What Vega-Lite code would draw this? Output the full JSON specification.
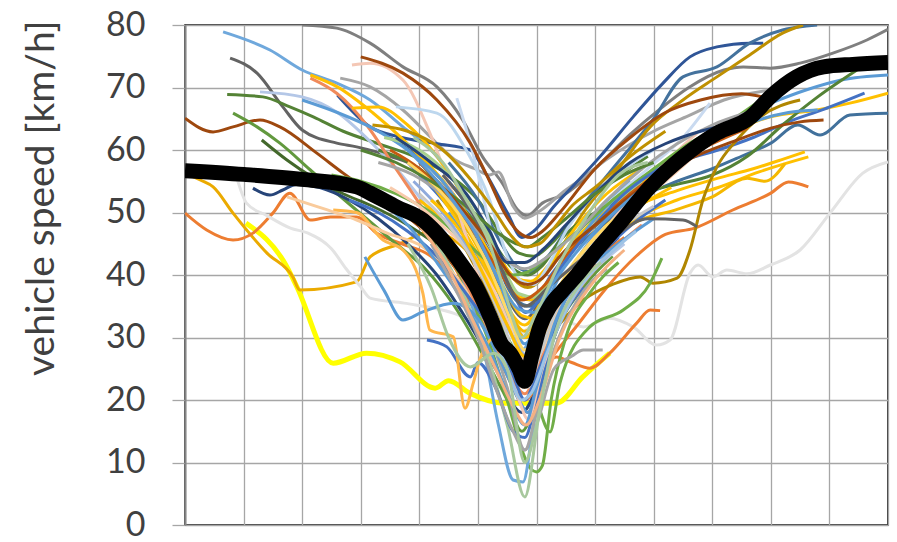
{
"$schema":"https://vega.github.io/schema/vega-lite/v6.json",
"width":703,"height":500,
"autosize":{"type":"none"},
"padding":{"left":185,"top":25,"right":9,"bottom":17},
"background":"white",
"config":{"view":{"stroke":"#000000","strokeWidth":1.5},"font":"Lato"},
"data":{"values":[
{"s":"m","x":0,"y":56.7},{"s":"m","x":1,"y":56.1},{"s":"m","x":2,"y":55.3},{"s":"m","x":2.93,"y":54.1},{"s":"m","x":3.16,"y":53.1},{"s":"m","x":3.61,"y":50.9},{"s":"m","x":4.06,"y":48.8},{"s":"m","x":4.4,"y":45.6},{"s":"m","x":4.75,"y":41.3},{"s":"m","x":4.95,"y":38.5},{"s":"m","x":5.21,"y":33.3},{"s":"m","x":5.4,"y":29},{"s":"m","x":5.55,"y":27.5},{"s":"m","x":5.7,"y":25},{"s":"m","x":5.8,"y":23},{"s":"m","x":5.92,"y":27},{"s":"m","x":6.05,"y":31.5},{"s":"m","x":6.23,"y":35},{"s":"m","x":6.45,"y":37.5},{"s":"m","x":6.69,"y":40},{"s":"m","x":7.03,"y":44},{"s":"m","x":7.4,"y":48},{"s":"m","x":7.94,"y":54.1},{"s":"m","x":8.5,"y":58.9},{"s":"m","x":9.08,"y":62.7},{"s":"m","x":9.66,"y":65.3},{"s":"m","x":9.99,"y":68.5},{"s":"m","x":10.44,"y":71.7},{"s":"m","x":10.9,"y":73.3},{"s":"m","x":11.4,"y":73.7},{"s":"m","x":12,"y":74},
{"s":"y","x":1.04,"y":48.3},{"s":"y","x":1.74,"y":41.3},{"s":"y","x":1.91,"y":38.1},{"s":"y","x":2.53,"y":25.9},{"s":"y","x":3.1,"y":27.5},{"s":"y","x":3.67,"y":26.1},{"s":"y","x":4.27,"y":21.9},{"s":"y","x":4.5,"y":23.1},{"s":"y","x":4.86,"y":21.1},{"s":"y","x":5.43,"y":19.5},{"s":"y","x":6.34,"y":19.5},{"s":"y","x":6.79,"y":23.7},{"s":"y","x":7.25,"y":27.5},
{"s":"01","x":0,"y":56.3},{"s":"01","x":0.26,"y":55.2},{"s":"01","x":0.48,"y":54.1},{"s":"01","x":0.82,"y":49.9},{"s":"01","x":1.4,"y":43.5},{"s":"01","x":1.84,"y":39.7},{"s":"01","x":1.96,"y":37.6},{"s":"01","x":2.93,"y":38.9},{"s":"01","x":3.16,"y":42.9},{"s":"01","x":3.67,"y":45},{"s":"01","x":4.2,"y":47},{"s":"01","x":4.8,"y":44},{"s":"01","x":5.3,"y":38},{"s":"01","x":5.8,"y":30},{"s":"01","x":6.3,"y":40},{"s":"01","x":7.0,"y":47},{"s":"01","x":7.8,"y":52},
{"s":"02","x":0,"y":49.9},{"s":"02","x":0.37,"y":47.2},{"s":"02","x":0.82,"y":45.6},{"s":"02","x":1.16,"y":46.7},{"s":"02","x":1.5,"y":49.9},{"s":"02","x":1.79,"y":53.1},{"s":"02","x":2.14,"y":48.8},{"s":"02","x":2.48,"y":49.3},{"s":"02","x":2.93,"y":49.3},{"s":"02","x":3.27,"y":46.7},{"s":"02","x":3.7,"y":45},{"s":"02","x":4.2,"y":43},{"s":"02","x":4.7,"y":38},{"s":"02","x":5.2,"y":30},{"s":"02","x":5.6,"y":22},{"s":"02","x":5.85,"y":18},{"s":"02","x":6.1,"y":25},{"s":"02","x":6.5,"y":35},{"s":"02","x":7.0,"y":42},{"s":"02","x":7.5,"y":46},
{"s":"03","x":0.88,"y":55.7},{"s":"03","x":1.05,"y":51.5},{"s":"03","x":1.4,"y":49.5},{"s":"03","x":1.8,"y":47.5},{"s":"03","x":2.1,"y":46.7},{"s":"03","x":2.5,"y":44.2},{"s":"03","x":2.75,"y":41},{"s":"03","x":3.0,"y":38.1},{"s":"03","x":3.16,"y":36.3},{"s":"03","x":3.74,"y":35.5},{"s":"03","x":4.58,"y":33.9},{"s":"03","x":5.2,"y":31.2},{"s":"03","x":5.6,"y":30},{"s":"03","x":6.0,"y":32.5},{"s":"03","x":6.3,"y":33.5},{"s":"03","x":6.8,"y":31.7},{"s":"03","x":7.25,"y":33.1},{"s":"03","x":7.65,"y":31.7},{"s":"03","x":8.05,"y":28.8},{"s":"03","x":8.28,"y":29.6},{"s":"03","x":8.62,"y":40.3},{"s":"03","x":8.76,"y":41.6},{"s":"03","x":9.01,"y":39.7},{"s":"03","x":9.25,"y":40.8},{"s":"03","x":9.59,"y":40.2},{"s":"03","x":9.99,"y":41.6},{"s":"03","x":10.5,"y":44},{"s":"03","x":11.01,"y":49.9},{"s":"03","x":11.57,"y":56.3},{"s":"03","x":12,"y":58.1},
{"s":"04","x":0,"y":65.1},{"s":"04","x":0.48,"y":62.9},{"s":"04","x":0.82,"y":63.7},{"s":"04","x":1.28,"y":64.8},{"s":"04","x":1.62,"y":63.7},{"s":"04","x":2.25,"y":59.5},{"s":"04","x":2.7,"y":56.3},{"s":"04","x":3.2,"y":53},{"s":"04","x":3.7,"y":50},{"s":"04","x":4.2,"y":46},{"s":"04","x":4.7,"y":40},{"s":"04","x":5.2,"y":33},{"s":"04","x":5.6,"y":26},{"s":"04","x":5.8,"y":24},{"s":"04","x":6.1,"y":30},{"s":"04","x":6.5,"y":38},{"s":"04","x":7.0,"y":44},{"s":"04","x":7.6,"y":49},
{"s":"05","x":0.65,"y":78.9},{"s":"05","x":1.45,"y":76},{"s":"05","x":2.0,"y":72.8},{"s":"05","x":2.59,"y":70.7},{"s":"05","x":3.16,"y":68},{"s":"05","x":3.72,"y":63.7},{"s":"05","x":4.2,"y":60},{"s":"05","x":4.6,"y":55},{"s":"05","x":5.0,"y":46},{"s":"05","x":5.4,"y":36},{"s":"05","x":5.75,"y":28},{"s":"05","x":6.0,"y":32},{"s":"05","x":6.4,"y":42},{"s":"05","x":7.0,"y":50},{"s":"05","x":7.6,"y":55},
{"s":"06","x":0.77,"y":74.7},{"s":"06","x":1.23,"y":72.3},{"s":"06","x":1.67,"y":66.9},{"s":"06","x":2.0,"y":63.2},{"s":"06","x":2.59,"y":61.1},{"s":"06","x":2.93,"y":60.5},{"s":"06","x":3.5,"y":59},{"s":"06","x":4.0,"y":57},{"s":"06","x":4.5,"y":52},{"s":"06","x":5.0,"y":45},{"s":"06","x":5.4,"y":38},{"s":"06","x":5.8,"y":33},{"s":"06","x":6.2,"y":38},{"s":"06","x":6.7,"y":45},{"s":"06","x":7.3,"y":50},{"s":"06","x":8.0,"y":54},
{"s":"07","x":0.72,"y":68.9},{"s":"07","x":1.33,"y":68.5},{"s":"07","x":1.79,"y":66.9},{"s":"07","x":2.19,"y":65.3},{"s":"07","x":2.7,"y":63},{"s":"07","x":3.3,"y":61},{"s":"07","x":3.9,"y":59},{"s":"07","x":4.5,"y":56},{"s":"07","x":5.0,"y":52},{"s":"07","x":5.4,"y":46.5},{"s":"07","x":5.7,"y":43.5},{"s":"07","x":5.95,"y":43},{"s":"07","x":6.25,"y":45},{"s":"07","x":6.7,"y":50},{"s":"07","x":7.3,"y":55},{"s":"07","x":7.9,"y":59},
{"s":"08","x":0.82,"y":65.9},{"s":"08","x":1.23,"y":63.7},{"s":"08","x":1.62,"y":61.1},{"s":"08","x":2.14,"y":56.8},{"s":"08","x":2.6,"y":53},{"s":"08","x":3.1,"y":49},{"s":"08","x":3.6,"y":45},{"s":"08","x":4.1,"y":41},{"s":"08","x":4.6,"y":35},{"s":"08","x":5.1,"y":27},{"s":"08","x":5.5,"y":20},{"s":"08","x":5.75,"y":15},{"s":"08","x":6.0,"y":20},{"s":"08","x":6.3,"y":30},{"s":"08","x":6.8,"y":38},{"s":"08","x":7.3,"y":43},
{"s":"09","x":1.31,"y":61.6},{"s":"09","x":1.74,"y":58.4},{"s":"09","x":2.2,"y":55.5},{"s":"09","x":2.7,"y":53},{"s":"09","x":3.2,"y":51},{"s":"09","x":3.8,"y":48},{"s":"09","x":4.4,"y":44},{"s":"09","x":5.0,"y":38},{"s":"09","x":5.5,"y":30},{"s":"09","x":5.8,"y":25},{"s":"09","x":6.1,"y":32},{"s":"09","x":6.6,"y":40},{"s":"09","x":7.2,"y":46},
{"s":"10","x":1.16,"y":53.9},{"s":"10","x":1.45,"y":52.8},{"s":"10","x":1.67,"y":53.6},{"s":"10","x":1.9,"y":54.5},{"s":"10","x":2.3,"y":54},{"s":"10","x":2.8,"y":52},{"s":"10","x":3.3,"y":49},{"s":"10","x":3.8,"y":45},{"s":"10","x":4.3,"y":40},{"s":"10","x":4.8,"y":33},{"s":"10","x":5.3,"y":25},{"s":"10","x":5.75,"y":18},{"s":"10","x":6.0,"y":22},{"s":"10","x":6.3,"y":32},{"s":"10","x":6.8,"y":40},{"s":"10","x":7.4,"y":46},
{"s":"11","x":1.28,"y":69.3},{"s":"11","x":2.0,"y":68.5},{"s":"11","x":2.6,"y":66},{"s":"11","x":3.2,"y":61},{"s":"11","x":3.7,"y":56},{"s":"11","x":4.2,"y":50},{"s":"11","x":4.7,"y":43},{"s":"11","x":5.2,"y":36},{"s":"11","x":5.6,"y":30},{"s":"11","x":5.85,"y":27},{"s":"11","x":6.1,"y":30},{"s":"11","x":6.5,"y":36},{"s":"11","x":7.0,"y":41},{"s":"11","x":7.5,"y":45},
{"s":"12","x":2.0,"y":80},{"s":"12","x":2.59,"y":79.5},{"s":"12","x":3.16,"y":77.1},{"s":"12","x":3.72,"y":73.3},{"s":"12","x":4.3,"y":70.1},{"s":"12","x":4.74,"y":64.8},{"s":"12","x":5.08,"y":58.9},{"s":"12","x":5.43,"y":54.5},{"s":"12","x":5.67,"y":50.5},{"s":"12","x":5.84,"y":49.5},{"s":"12","x":6.1,"y":51.5},{"s":"12","x":6.5,"y":53},{"s":"12","x":7.0,"y":57},{"s":"12","x":7.6,"y":62.5},{"s":"12","x":8.1,"y":66.5},{"s":"12","x":8.6,"y":70},{"s":"12","x":9.2,"y":72.8},{"s":"12","x":9.53,"y":73.3},{"s":"12","x":9.99,"y":73.1},{"s":"12","x":10.5,"y":73.9},{"s":"12","x":11.06,"y":75.5},{"s":"12","x":11.64,"y":77.6},{"s":"12","x":12,"y":79.3},
{"s":"13","x":2.65,"y":71.5},{"s":"13","x":3.16,"y":70.1},{"s":"13","x":3.72,"y":66.4},{"s":"13","x":4.2,"y":62},{"s":"13","x":4.6,"y":58.5},{"s":"13","x":4.95,"y":57},{"s":"13","x":5.2,"y":56},{"s":"13","x":5.35,"y":56.5},{"s":"13","x":5.6,"y":51},{"s":"13","x":5.8,"y":49.1},{"s":"13","x":6.05,"y":50.2},{"s":"13","x":6.5,"y":53.6},{"s":"13","x":6.74,"y":55.2},{"s":"13","x":7.2,"y":58.5},{"s":"13","x":8.0,"y":63},{"s":"13","x":8.6,"y":65.5},{"s":"13","x":9.2,"y":68},{"s":"13","x":9.99,"y":69.6},
{"s":"14","x":2.6,"y":68.8},{"s":"14","x":3.16,"y":63.7},{"s":"14","x":3.7,"y":62},{"s":"14","x":4.3,"y":61},{"s":"14","x":4.87,"y":60},{"s":"14","x":5.15,"y":56},{"s":"14","x":5.5,"y":50},{"s":"14","x":5.75,"y":46},{"s":"14","x":5.95,"y":47},{"s":"14","x":6.3,"y":51},{"s":"14","x":6.7,"y":55},{"s":"14","x":7.08,"y":58.9},{"s":"14","x":7.65,"y":65.3},{"s":"14","x":8.16,"y":70.7},{"s":"14","x":8.62,"y":74.9},{"s":"14","x":9.08,"y":76.5},{"s":"14","x":9.64,"y":77.1},{"s":"14","x":9.87,"y":77.1},
{"s":"15","x":4.5,"y":58},{"s":"15","x":5.0,"y":52},{"s":"15","x":5.4,"y":45},{"s":"15","x":5.65,"y":41.5},{"s":"15","x":5.9,"y":40.5},{"s":"15","x":6.15,"y":42.5},{"s":"15","x":6.7,"y":50},{"s":"15","x":7.3,"y":57},{"s":"15","x":8.0,"y":65},{"s":"15","x":8.5,"y":71.7},{"s":"15","x":9.08,"y":73.3},{"s":"15","x":9.64,"y":77.1},{"s":"15","x":10.2,"y":79.2},{"s":"15","x":10.79,"y":80},
{"s":"16","x":4.2,"y":55},{"s":"16","x":4.8,"y":50},{"s":"16","x":5.3,"y":44},{"s":"16","x":5.6,"y":39.5},{"s":"16","x":5.85,"y":38},{"s":"16","x":6.1,"y":39.5},{"s":"16","x":6.4,"y":44},{"s":"16","x":6.8,"y":50},{"s":"16","x":7.4,"y":57},{"s":"16","x":7.94,"y":63.7},{"s":"16","x":8.5,"y":68},{"s":"16","x":9.08,"y":71.7},{"s":"16","x":9.64,"y":75.2},{"s":"16","x":10.2,"y":78.7},{"s":"16","x":10.55,"y":80},
{"s":"17","x":4.5,"y":50},{"s":"17","x":5.0,"y":43},{"s":"17","x":5.5,"y":35},{"s":"17","x":5.8,"y":30},{"s":"17","x":6.2,"y":35},{"s":"17","x":6.8,"y":44},{"s":"17","x":7.5,"y":52},{"s":"17","x":8.2,"y":58},{"s":"17","x":8.8,"y":62},{"s":"17","x":9.45,"y":65.3},{"s":"17","x":10.0,"y":67.5},{"s":"17","x":10.6,"y":69.6},{"s":"17","x":11.2,"y":71.2},{"s":"17","x":12,"y":72},
{"s":"18","x":4.0,"y":52},{"s":"18","x":4.7,"y":46},{"s":"18","x":5.3,"y":38},{"s":"18","x":5.8,"y":32},{"s":"18","x":6.2,"y":38},{"s":"18","x":6.8,"y":46},{"s":"18","x":7.5,"y":52},{"s":"18","x":8.2,"y":57},{"s":"18","x":8.8,"y":61},{"s":"18","x":9.45,"y":63.5},{"s":"18","x":9.99,"y":65.3},{"s":"18","x":10.79,"y":66.4},{"s":"18","x":11.35,"y":67.5},{"s":"18","x":12,"y":69.1},
{"s":"19","x":3.5,"y":62},{"s":"19","x":4.2,"y":57},{"s":"19","x":4.8,"y":50},{"s":"19","x":5.3,"y":42},{"s":"19","x":5.65,"y":36},{"s":"19","x":5.9,"y":35},{"s":"19","x":6.15,"y":37},{"s":"19","x":6.4,"y":41},{"s":"19","x":7.0,"y":47},{"s":"19","x":7.7,"y":52},{"s":"19","x":8.4,"y":55},{"s":"19","x":9.0,"y":57},{"s":"19","x":9.5,"y":59},{"s":"19","x":10.0,"y":61.1},{"s":"19","x":10.46,"y":64},{"s":"19","x":10.84,"y":62.4},{"s":"19","x":11.35,"y":65.6},{"s":"19","x":12,"y":65.9},
{"s":"20","x":3.8,"y":58},{"s":"20","x":4.4,"y":52},{"s":"20","x":5.0,"y":45},{"s":"20","x":5.4,"y":40},{"s":"20","x":5.7,"y":36.5},{"s":"20","x":5.95,"y":36},{"s":"20","x":6.25,"y":40},{"s":"20","x":7.0,"y":49},{"s":"20","x":7.7,"y":55},{"s":"20","x":8.4,"y":58},{"s":"20","x":9.1,"y":60},{"s":"20","x":9.7,"y":62},{"s":"20","x":10.3,"y":64.5},{"s":"20","x":10.9,"y":66.5},{"s":"20","x":11.6,"y":69.1},
{"s":"21","x":3.3,"y":60},{"s":"21","x":4.0,"y":57},{"s":"21","x":4.6,"y":52},{"s":"21","x":5.2,"y":46},{"s":"21","x":5.6,"y":41},{"s":"21","x":5.85,"y":40},{"s":"21","x":6.1,"y":41.5},{"s":"21","x":6.4,"y":45.5},{"s":"21","x":7.0,"y":50},{"s":"21","x":7.7,"y":53},{"s":"21","x":8.4,"y":54.5},{"s":"21","x":9.0,"y":56},{"s":"21","x":9.6,"y":59},{"s":"21","x":10.2,"y":64},{"s":"21","x":10.8,"y":68.5},{"s":"21","x":11.47,"y":72.8},
{"s":"22","x":3.9,"y":60},{"s":"22","x":4.5,"y":54},{"s":"22","x":5.1,"y":45},{"s":"22","x":5.5,"y":37},{"s":"22","x":5.75,"y":33.5},{"s":"22","x":6.0,"y":33},{"s":"22","x":6.3,"y":37},{"s":"22","x":7.0,"y":46},{"s":"22","x":7.7,"y":51},{"s":"22","x":8.4,"y":53.5},{"s":"22","x":9.1,"y":55.5},{"s":"22","x":9.7,"y":57},{"s":"22","x":10.2,"y":58.5},{"s":"22","x":10.58,"y":59.7},
{"s":"23","x":4.1,"y":56},{"s":"23","x":4.7,"y":48},{"s":"23","x":5.2,"y":40},{"s":"23","x":5.5,"y":35},{"s":"23","x":5.8,"y":30},{"s":"23","x":6.3,"y":36},{"s":"23","x":7.0,"y":43},{"s":"23","x":7.7,"y":49},{"s":"23","x":8.4,"y":52},{"s":"23","x":9.1,"y":54},{"s":"23","x":9.8,"y":56.5},{"s":"23","x":10.64,"y":58.9},
{"s":"24","x":4.3,"y":54},{"s":"24","x":4.9,"y":46},{"s":"24","x":5.4,"y":37},{"s":"24","x":5.8,"y":31},{"s":"24","x":6.3,"y":37},{"s":"24","x":7.0,"y":44},{"s":"24","x":7.7,"y":48.5},{"s":"24","x":8.4,"y":50.5},{"s":"24","x":9.0,"y":52.5},{"s":"24","x":9.6,"y":55.5},{"s":"24","x":9.9,"y":55},{"s":"24","x":10.24,"y":57.8},
{"s":"25","x":4.0,"y":50},{"s":"25","x":4.5,"y":43},{"s":"25","x":5.0,"y":34},{"s":"25","x":5.4,"y":26},{"s":"25","x":5.8,"y":20},{"s":"25","x":6.2,"y":26},{"s":"25","x":6.7,"y":32},{"s":"25","x":7.2,"y":38},{"s":"25","x":7.7,"y":43},{"s":"25","x":8.2,"y":46.5},{"s":"25","x":8.7,"y":47.5},{"s":"25","x":9.35,"y":50.4},{"s":"25","x":10.0,"y":53.1},{"s":"25","x":10.3,"y":54.9},{"s":"25","x":10.64,"y":54.1},
{"s":"26","x":4.2,"y":48},{"s":"26","x":4.7,"y":40},{"s":"26","x":5.1,"y":33},{"s":"26","x":5.5,"y":26},{"s":"26","x":5.85,"y":22},{"s":"26","x":6.1,"y":25},{"s":"26","x":6.34,"y":26.9},{"s":"26","x":6.6,"y":26},{"s":"26","x":6.91,"y":25.1},{"s":"26","x":7.25,"y":27.5},{"s":"26","x":7.71,"y":32.3},{"s":"26","x":7.94,"y":34.4},{"s":"26","x":8.11,"y":34.3},
{"s":"27","x":4.3,"y":52},{"s":"27","x":4.8,"y":44},{"s":"27","x":5.3,"y":35},{"s":"27","x":5.8,"y":25},{"s":"27","x":6.2,"y":30},{"s":"27","x":6.8,"y":36},{"s":"27","x":7.3,"y":38.5},{"s":"27","x":7.77,"y":39.7},{"s":"27","x":7.99,"y":38.7},{"s":"27","x":8.4,"y":39.5},{"s":"27","x":8.62,"y":44},{"s":"27","x":8.84,"y":52},{"s":"27","x":9.08,"y":57.3},{"s":"27","x":9.42,"y":61.6},{"s":"27","x":9.82,"y":65.3},{"s":"27","x":10.5,"y":68},
{"s":"28","x":4.1,"y":50},{"s":"28","x":4.6,"y":43},{"s":"28","x":5.1,"y":36},{"s":"28","x":5.5,"y":30},{"s":"28","x":5.8,"y":25},{"s":"28","x":6.0,"y":20},{"s":"28","x":6.23,"y":14.9},{"s":"28","x":6.4,"y":22.7},{"s":"28","x":6.91,"y":31.7},{"s":"28","x":7.48,"y":34.4},{"s":"28","x":7.94,"y":38.7},{"s":"28","x":8.14,"y":42.7},
{"s":"29","x":4.4,"y":45},{"s":"29","x":4.8,"y":38},{"s":"29","x":5.2,"y":29},{"s":"29","x":5.5,"y":20},{"s":"29","x":5.75,"y":12},{"s":"29","x":5.9,"y":9},{"s":"29","x":6.0,"y":8.5},{"s":"29","x":6.1,"y":9.5},{"s":"29","x":6.25,"y":20},{"s":"29","x":6.5,"y":30},{"s":"29","x":6.9,"y":37},{"s":"29","x":7.4,"y":42},
{"s":"30","x":4.2,"y":50},{"s":"30","x":4.7,"y":42},{"s":"30","x":5.1,"y":33},{"s":"30","x":5.5,"y":22},{"s":"30","x":5.8,"y":12},{"s":"30","x":6.0,"y":16},{"s":"30","x":6.3,"y":25},{"s":"30","x":6.6,"y":27},{"s":"30","x":6.8,"y":28},{"s":"30","x":7.13,"y":28},
{"s":"31","x":4.3,"y":48},{"s":"31","x":4.8,"y":38},{"s":"31","x":5.1,"y":28},{"s":"31","x":5.35,"y":16},{"s":"31","x":5.6,"y":7.2},{"s":"31","x":5.77,"y":6.9},{"s":"31","x":5.95,"y":16},{"s":"31","x":6.2,"y":28},{"s":"31","x":6.6,"y":36},{"s":"31","x":7.2,"y":43},
{"s":"32","x":4.3,"y":45},{"s":"32","x":4.8,"y":36},{"s":"32","x":5.2,"y":26},{"s":"32","x":5.5,"y":16},{"s":"32","x":5.8,"y":4.5},{"s":"32","x":6.0,"y":15},{"s":"32","x":6.2,"y":30},{"s":"32","x":6.6,"y":40},{"s":"32","x":7.0,"y":45},
{"s":"33","x":4.13,"y":29.6},{"s":"33","x":4.47,"y":28.5},{"s":"33","x":4.87,"y":23.7},{"s":"33","x":5.0,"y":26},{"s":"33","x":5.3,"y":22},{"s":"33","x":5.6,"y":15},{"s":"33","x":5.8,"y":14},{"s":"33","x":6.0,"y":20},{"s":"33","x":6.3,"y":30},{"s":"33","x":6.8,"y":38},
{"s":"34","x":3.07,"y":42.9},{"s":"34","x":3.4,"y":37.5},{"s":"34","x":3.72,"y":32.8},{"s":"34","x":4.06,"y":34.1},{"s":"34","x":4.58,"y":35.5},{"s":"34","x":5.0,"y":33},{"s":"34","x":5.4,"y":26},{"s":"34","x":5.7,"y":20},{"s":"34","x":5.85,"y":18},{"s":"34","x":6.1,"y":26},{"s":"34","x":6.5,"y":36},{"s":"34","x":7.0,"y":43},
{"s":"35","x":2.53,"y":50.4},{"s":"35","x":2.93,"y":50},{"s":"35","x":3.38,"y":45.6},{"s":"35","x":3.72,"y":44},{"s":"35","x":4.06,"y":37.1},{"s":"35","x":4.18,"y":31.2},{"s":"35","x":4.58,"y":30.1},{"s":"35","x":4.78,"y":18.7},{"s":"35","x":4.92,"y":22.7},{"s":"35","x":5.03,"y":26.4},{"s":"35","x":5.3,"y":30},{"s":"35","x":5.6,"y":28},{"s":"35","x":5.85,"y":25},{"s":"35","x":6.1,"y":30},{"s":"35","x":6.5,"y":38},{"s":"35","x":7.0,"y":44},{"s":"35","x":7.5,"y":48},
{"s":"36","x":1.74,"y":52.5},{"s":"36","x":2.59,"y":49.9},{"s":"36","x":2.93,"y":48.8},{"s":"36","x":3.45,"y":46.7},{"s":"36","x":4.06,"y":44.5},{"s":"36","x":4.6,"y":40},{"s":"36","x":5.1,"y":33},{"s":"36","x":5.5,"y":26},{"s":"36","x":5.8,"y":22},{"s":"36","x":6.1,"y":28},{"s":"36","x":6.5,"y":37},{"s":"36","x":7.0,"y":44},
{"s":"37","x":2.85,"y":73.6},{"s":"37","x":3.16,"y":73.9},{"s":"37","x":3.72,"y":71.2},{"s":"37","x":4.18,"y":62.7},{"s":"37","x":4.6,"y":52},{"s":"37","x":5.0,"y":40},{"s":"37","x":5.4,"y":28},{"s":"37","x":5.7,"y":20},{"s":"37","x":5.85,"y":17},{"s":"37","x":6.1,"y":25},{"s":"37","x":6.5,"y":35},{"s":"37","x":7.0,"y":45},{"s":"37","x":7.6,"y":52},{"s":"37","x":8.2,"y":58},{"s":"37","x":8.74,"y":62.7},
{"s":"38","x":4.64,"y":68.3},{"s":"38","x":4.9,"y":60},{"s":"38","x":5.2,"y":48},{"s":"38","x":5.5,"y":35},{"s":"38","x":5.75,"y":25},{"s":"38","x":5.95,"y":30},{"s":"38","x":6.3,"y":38},{"s":"38","x":6.8,"y":46},{"s":"38","x":7.3,"y":52},{"s":"38","x":7.9,"y":57},{"s":"38","x":8.5,"y":62},{"s":"38","x":8.96,"y":67.5},
{"s":"39","x":2.14,"y":72},{"s":"39","x":2.6,"y":70.1},{"s":"39","x":3.2,"y":66},{"s":"39","x":3.8,"y":61},{"s":"39","x":4.4,"y":55},{"s":"39","x":4.9,"y":48},{"s":"39","x":5.4,"y":40.5},{"s":"39","x":5.7,"y":36.5},{"s":"39","x":5.95,"y":36},{"s":"39","x":6.2,"y":38.5},{"s":"39","x":6.7,"y":46},{"s":"39","x":7.3,"y":51},{"s":"39","x":8.0,"y":56},
{"s":"40","x":2.14,"y":71.5},{"s":"40","x":2.6,"y":69},{"s":"40","x":3.1,"y":64},{"s":"40","x":3.6,"y":57},{"s":"40","x":4.1,"y":50},{"s":"40","x":4.6,"y":42},{"s":"40","x":5.1,"y":33},{"s":"40","x":5.5,"y":25},{"s":"40","x":5.8,"y":21},{"s":"40","x":6.1,"y":27},{"s":"40","x":6.6,"y":36},{"s":"40","x":7.2,"y":43},{"s":"40","x":7.8,"y":48},
{"s":"41","x":2.0,"y":68},{"s":"41","x":2.6,"y":66},{"s":"41","x":3.2,"y":63.5},{"s":"41","x":3.8,"y":60},{"s":"41","x":4.4,"y":55},{"s":"41","x":4.9,"y":48},{"s":"41","x":5.4,"y":38},{"s":"41","x":5.8,"y":29},{"s":"41","x":6.1,"y":34},{"s":"41","x":6.5,"y":42},{"s":"41","x":7.0,"y":49},{"s":"41","x":7.6,"y":54},
{"s":"42","x":2.85,"y":66.7},{"s":"42","x":3.3,"y":66.9},{"s":"42","x":3.8,"y":64},{"s":"42","x":4.3,"y":59},{"s":"42","x":4.8,"y":52},{"s":"42","x":5.35,"y":43},{"s":"42","x":5.65,"y":39.5},{"s":"42","x":5.9,"y":39},{"s":"42","x":6.2,"y":41.5},{"s":"42","x":6.7,"y":48},{"s":"42","x":7.2,"y":53},{"s":"42","x":7.8,"y":57},
{"s":"43","x":3.6,"y":66.9},{"s":"43","x":4.3,"y":65.9},{"s":"43","x":4.8,"y":60},{"s":"43","x":5.2,"y":52},{"s":"43","x":5.5,"y":43},{"s":"43","x":5.75,"y":39},{"s":"43","x":5.95,"y":38.5},{"s":"43","x":6.2,"y":41.5},{"s":"43","x":6.5,"y":47},{"s":"43","x":7.0,"y":53},{"s":"43","x":7.5,"y":57},{"s":"43","x":8.0,"y":60},
{"s":"44","x":3.4,"y":62},{"s":"44","x":4.0,"y":60},{"s":"44","x":4.5,"y":56},{"s":"44","x":5.0,"y":50},{"s":"44","x":5.4,"y":42},{"s":"44","x":5.7,"y":37},{"s":"44","x":5.95,"y":36.5},{"s":"44","x":6.2,"y":39},{"s":"44","x":6.7,"y":45},{"s":"44","x":7.2,"y":50},{"s":"44","x":7.8,"y":55},
{"s":"45","x":3.0,"y":74.9},{"s":"45","x":3.72,"y":72.3},{"s":"45","x":4.3,"y":68},{"s":"45","x":4.87,"y":61.1},{"s":"45","x":5.2,"y":55},{"s":"45","x":5.45,"y":50},{"s":"45","x":5.7,"y":46.8},{"s":"45","x":5.9,"y":46},{"s":"45","x":6.1,"y":47},{"s":"45","x":6.4,"y":50},{"s":"45","x":7.0,"y":57},{"s":"45","x":7.6,"y":62},{"s":"45","x":8.2,"y":66},{"s":"45","x":8.8,"y":68},{"s":"45","x":9.5,"y":69},{"s":"45","x":9.94,"y":68.3},
{"s":"46","x":2.5,"y":56},{"s":"46","x":3.0,"y":55},{"s":"46","x":3.6,"y":53},{"s":"46","x":4.2,"y":50},{"s":"46","x":4.7,"y":46},{"s":"46","x":5.2,"y":42},{"s":"46","x":5.6,"y":40},{"s":"46","x":5.85,"y":40.5},{"s":"46","x":6.2,"y":43},{"s":"46","x":6.7,"y":47},{"s":"46","x":7.3,"y":52},{"s":"46","x":8.0,"y":57},{"s":"46","x":8.6,"y":61},{"s":"46","x":9.2,"y":64},{"s":"46","x":9.9,"y":68.5},
{"s":"47","x":2.8,"y":52},{"s":"47","x":3.3,"y":50},{"s":"47","x":3.8,"y":47},{"s":"47","x":4.3,"y":43},{"s":"47","x":4.8,"y":37},{"s":"47","x":5.3,"y":30},{"s":"47","x":5.6,"y":24},{"s":"47","x":5.8,"y":20},{"s":"47","x":6.0,"y":24},{"s":"47","x":6.4,"y":33},{"s":"47","x":6.9,"y":41},{"s":"47","x":7.5,"y":47},{"s":"47","x":8.2,"y":52},
{"s":"48","x":3.5,"y":60},{"s":"48","x":4.0,"y":57},{"s":"48","x":4.5,"y":52},{"s":"48","x":5.0,"y":46},{"s":"48","x":5.4,"y":40},{"s":"48","x":5.75,"y":36},{"s":"48","x":6.1,"y":38},{"s":"48","x":6.5,"y":43},{"s":"48","x":7.0,"y":48},{"s":"48","x":7.6,"y":53},{"s":"48","x":8.3,"y":57.5},{"s":"48","x":9.0,"y":61},{"s":"48","x":9.6,"y":63.5},
{"s":"49","x":3.3,"y":58},{"s":"49","x":3.9,"y":56},{"s":"49","x":4.5,"y":52},{"s":"49","x":5.0,"y":47},{"s":"49","x":5.4,"y":43},{"s":"49","x":5.8,"y":41},{"s":"49","x":6.2,"y":43},{"s":"49","x":6.7,"y":47},{"s":"49","x":7.2,"y":52},{"s":"49","x":7.8,"y":57},{"s":"49","x":8.4,"y":61},{"s":"49","x":9.0,"y":64},{"s":"49","x":9.6,"y":66},
{"s":"50","x":3.6,"y":62},{"s":"50","x":4.2,"y":58},{"s":"50","x":4.8,"y":53},{"s":"50","x":5.2,"y":47},{"s":"50","x":5.5,"y":42},{"s":"50","x":5.8,"y":42},{"s":"50","x":6.1,"y":44},{"s":"50","x":6.5,"y":48},{"s":"50","x":7.0,"y":53},{"s":"50","x":7.6,"y":58},{"s":"50","x":8.2,"y":61},{"s":"50","x":8.8,"y":63},{"s":"50","x":9.5,"y":64.5},
{"s":"51","x":3.5,"y":54},{"s":"51","x":4.0,"y":51},{"s":"51","x":4.5,"y":47},{"s":"51","x":5.0,"y":42},{"s":"51","x":5.4,"y":35},{"s":"51","x":5.7,"y":28},{"s":"51","x":5.82,"y":26},{"s":"51","x":6.0,"y":30},{"s":"51","x":6.4,"y":38},{"s":"51","x":6.9,"y":45},{"s":"51","x":7.5,"y":50},{"s":"51","x":8.2,"y":55},{"s":"51","x":8.8,"y":60},
{"s":"52","x":3.8,"y":58},{"s":"52","x":4.3,"y":54},{"s":"52","x":4.8,"y":48},{"s":"52","x":5.2,"y":41},{"s":"52","x":5.55,"y":33},{"s":"52","x":5.8,"y":28},{"s":"52","x":6.1,"y":32},{"s":"52","x":6.5,"y":40},{"s":"52","x":7.0,"y":46},{"s":"52","x":7.6,"y":51},
{"s":"53","x":3.0,"y":60},{"s":"53","x":3.6,"y":58},{"s":"53","x":4.2,"y":55},{"s":"53","x":4.8,"y":51},{"s":"53","x":5.3,"y":47},{"s":"53","x":5.65,"y":45},{"s":"53","x":5.85,"y":44.5},{"s":"53","x":6.1,"y":46},{"s":"53","x":6.5,"y":49},{"s":"53","x":7.0,"y":53},{"s":"53","x":7.5,"y":56},{"s":"53","x":8.0,"y":58},
{"s":"54","x":3.2,"y":64},{"s":"54","x":3.8,"y":63},{"s":"54","x":4.4,"y":60},{"s":"54","x":4.9,"y":55},{"s":"54","x":5.3,"y":50},{"s":"54","x":5.55,"y":46.5},{"s":"54","x":5.8,"y":44.5},{"s":"54","x":6.05,"y":45},{"s":"54","x":6.3,"y":47.5},{"s":"54","x":6.6,"y":51},{"s":"54","x":7.0,"y":54},{"s":"54","x":7.6,"y":59},{"s":"54","x":8.2,"y":63},
{"s":"55","x":3.9,"y":55},{"s":"55","x":4.4,"y":50},{"s":"55","x":4.9,"y":43},{"s":"55","x":5.3,"y":36},{"s":"55","x":5.6,"y":30},{"s":"55","x":5.82,"y":27},{"s":"55","x":6.05,"y":30},{"s":"55","x":6.4,"y":37},{"s":"55","x":6.9,"y":44},{"s":"55","x":7.5,"y":50},{"s":"55","x":8.1,"y":55},
{"s":"56","x":4.0,"y":53},{"s":"56","x":4.5,"y":48},{"s":"56","x":5.0,"y":41},{"s":"56","x":5.4,"y":33},{"s":"56","x":5.7,"y":25},{"s":"56","x":5.85,"y":22},{"s":"56","x":6.05,"y":27},{"s":"56","x":6.4,"y":36},{"s":"56","x":6.9,"y":43},{"s":"56","x":7.5,"y":48},{"s":"56","x":8.0,"y":51},
{"s":"57","x":3.3,"y":52},{"s":"57","x":3.8,"y":48},{"s":"57","x":4.3,"y":42},{"s":"57","x":4.8,"y":35},{"s":"57","x":5.2,"y":28},{"s":"57","x":5.55,"y":20},{"s":"57","x":5.8,"y":16},{"s":"57","x":6.0,"y":22},{"s":"57","x":6.3,"y":32},{"s":"57","x":6.8,"y":40},{"s":"57","x":7.4,"y":45},{"s":"57","x":8.0,"y":49},
{"s":"58","x":4.2,"y":45},{"s":"58","x":4.6,"y":38},{"s":"58","x":5.0,"y":30},{"s":"58","x":5.3,"y":22},{"s":"58","x":5.6,"y":15},{"s":"58","x":5.8,"y":12},{"s":"58","x":6.0,"y":18},{"s":"58","x":6.3,"y":28},{"s":"58","x":6.7,"y":36},{"s":"58","x":7.2,"y":41},
{"s":"59","x":4.0,"y":48},{"s":"59","x":4.5,"y":41},{"s":"59","x":4.9,"y":33},{"s":"59","x":5.3,"y":25},{"s":"59","x":5.6,"y":19},{"s":"59","x":5.82,"y":16},{"s":"59","x":6.05,"y":20},{"s":"59","x":6.4,"y":30},{"s":"59","x":6.9,"y":38},{"s":"59","x":7.5,"y":44},
{"s":"60","x":4.4,"y":47},{"s":"60","x":4.8,"y":40},{"s":"60","x":5.2,"y":32},{"s":"60","x":5.5,"y":25},{"s":"60","x":5.75,"y":20},{"s":"60","x":5.9,"y":21},{"s":"60","x":6.2,"y":28},{"s":"60","x":6.6,"y":36},{"s":"60","x":7.1,"y":42},{"s":"60","x":7.7,"y":47},
{"s":"61","x":4.2,"y":52},{"s":"61","x":4.7,"y":47},{"s":"61","x":5.1,"y":40},{"s":"61","x":5.5,"y":32},{"s":"61","x":5.8,"y":27},{"s":"61","x":6.1,"y":31},{"s":"61","x":6.5,"y":38},{"s":"61","x":7.0,"y":45},{"s":"61","x":7.6,"y":50},{"s":"61","x":8.3,"y":54},
{"s":"62","x":4.5,"y":55},{"s":"62","x":4.9,"y":50},{"s":"62","x":5.3,"y":43},{"s":"62","x":5.6,"y":37},{"s":"62","x":5.82,"y":34},{"s":"62","x":6.05,"y":36},{"s":"62","x":6.4,"y":41},{"s":"62","x":6.9,"y":47},{"s":"62","x":7.5,"y":53},{"s":"62","x":8.1,"y":57},{"s":"62","x":8.7,"y":59.5},
{"s":"63","x":4.4,"y":56},{"s":"63","x":4.9,"y":50},{"s":"63","x":5.3,"y":43},{"s":"63","x":5.8,"y":35},{"s":"63","x":6.2,"y":38},{"s":"63","x":6.7,"y":42},{"s":"63","x":7.3,"y":46},{"s":"63","x":7.9,"y":49},{"s":"63","x":8.5,"y":48.8},{"s":"63","x":8.74,"y":47.7},
{"s":"64","x":4.0,"y":58},{"s":"64","x":4.6,"y":52},{"s":"64","x":5.2,"y":45},{"s":"64","x":5.6,"y":39.5},{"s":"64","x":5.85,"y":38.5},{"s":"64","x":6.1,"y":39.5},{"s":"64","x":6.4,"y":43},{"s":"64","x":7.0,"y":48},{"s":"64","x":7.8,"y":54},{"s":"64","x":8.6,"y":58.5},{"s":"64","x":9.4,"y":61.5},{"s":"64","x":10.0,"y":63.5},{"s":"64","x":10.5,"y":64.5},{"s":"64","x":10.9,"y":64.8},
{"s":"65","x":3.8,"y":60},{"s":"65","x":4.4,"y":54},{"s":"65","x":5.0,"y":46},{"s":"65","x":5.4,"y":38.5},{"s":"65","x":5.7,"y":34.5},{"s":"65","x":5.95,"y":34},{"s":"65","x":6.3,"y":39},{"s":"65","x":7.0,"y":47},{"s":"65","x":7.7,"y":53},{"s":"65","x":8.4,"y":58},{"s":"65","x":9.1,"y":62},{"s":"65","x":9.7,"y":64.5},{"s":"65","x":10.3,"y":66},{"s":"65","x":10.8,"y":66.4},
{"s":"66","x":3.9,"y":62},{"s":"66","x":4.4,"y":58},{"s":"66","x":4.8,"y":52},{"s":"66","x":5.2,"y":45},{"s":"66","x":5.5,"y":36},{"s":"66","x":5.75,"y":30},{"s":"66","x":6.0,"y":34},{"s":"66","x":6.4,"y":42},{"s":"66","x":6.9,"y":50},{"s":"66","x":7.4,"y":56},{"s":"66","x":7.9,"y":58},
{"s":"67","x":3.8,"y":45},{"s":"67","x":4.2,"y":38},{"s":"67","x":4.5,"y":30},{"s":"67","x":4.87,"y":25.3},{"s":"67","x":5.27,"y":27.5},{"s":"67","x":5.5,"y":25},{"s":"67","x":5.8,"y":10},{"s":"67","x":6.0,"y":16},{"s":"67","x":6.3,"y":30},{"s":"67","x":6.7,"y":38},{"s":"67","x":7.1,"y":42}
]},
"encoding":{
"x":{"field":"x","type":"quantitative","scale":{"domain":[0,12],"nice":false,"zero":false},"axis":{"values":[0,1,2,3,4,5,6,7,8,9,10,11,12],"labels":false,"ticks":false,"domain":false,"title":null,"grid":true,"gridColor":"#A6A6A6","gridWidth":1.3}},
"y":{"field":"y","type":"quantitative","scale":{"domain":[0,80],"nice":false},"axis":{"values":[0,10,20,30,40,50,60,70,80],"grid":true,"gridColor":"#A6A6A6","gridWidth":1.3,"domainColor":"#868686","domainWidth":2,"tickColor":"#A6A6A6","tickSize":13,"tickWidth":1.3,"labelFont":"Lato","labelFontSize":34,"labelColor":"#404040","labelPadding":27,"title":"vehicle speed [km/h]","titleFont":"Lato","titleFontSize":39,"titleFontWeight":"normal","titleColor":"#404040","titleAngle":-90,"titleX":-132,"titleY":-5,"titleAlign":"right","titleBaseline":"alphabetic"}},
"color":{"field":"s","type":"nominal","legend":null,"scale":{
"domain":["m","y","01","02","03","04","05","06","07","08","09","10","11","12","13","14","15","16","17","18","19","20","21","22","23","24","25","26","27","28","29","30","31","32","33","34","35","36","37","38","39","40","41","42","43","44","45","46","47","48","49","50","51","52","53","54","55","56","57","58","59","60","61","62","63","64","65","66","67"],
"range":["#000000","#FFFF00","#EBAA00","#ED7D31","#E3E3E3","#9E480E","#6FA8DC","#636363","#548235","#62993E","#43682B","#264478","#B4C7E7","#7F7F7F","#A5A5A5","#2F5597","#44729D","#BF9000","#5B9BD5","#FFC000","#41719C","#4472C4","#548235","#FFC000","#FFC000","#F5B800","#ED7D31","#ED7D31","#B08600","#70AD47","#70AD47","#A5A5A5","#6FA8DC","#A8C89E","#4472C4","#5B9BD5","#FFB74D","#F9CB9C","#F4C7B5","#C9DAF0","#FFC000","#F08A5A","#5B9BD5","#FFC000","#BDD7EE","#A9D18E","#9E480E","#70AD47","#4472C4","#C55A11","#A5A5A5","#264478","#F8CBAD","#FFD966","#548235","#BF9000","#8FAADC","#C9C9C9","#5B9BD5","#A5A5A5","#F4B183","#9DC3E6","#FFC000","#4472C4","#636363","#9E480E","#5B9BD5","#A8C89E","#A8C89E"]}}
},
"layer":[
{"transform":[{"filter":"datum.s === 'y'"}],"mark":{"type":"line","strokeWidth":5,"interpolate":"monotone","clip":true}},
{"transform":[{"filter":"datum.s !== 'y' && datum.s !== 'm'"}],"mark":{"type":"line","strokeWidth":3,"interpolate":"monotone","clip":true}},
{"transform":[{"filter":"datum.s === 'm'"}],"mark":{"type":"line","strokeWidth":15,"interpolate":"monotone","clip":true}}
]
}
